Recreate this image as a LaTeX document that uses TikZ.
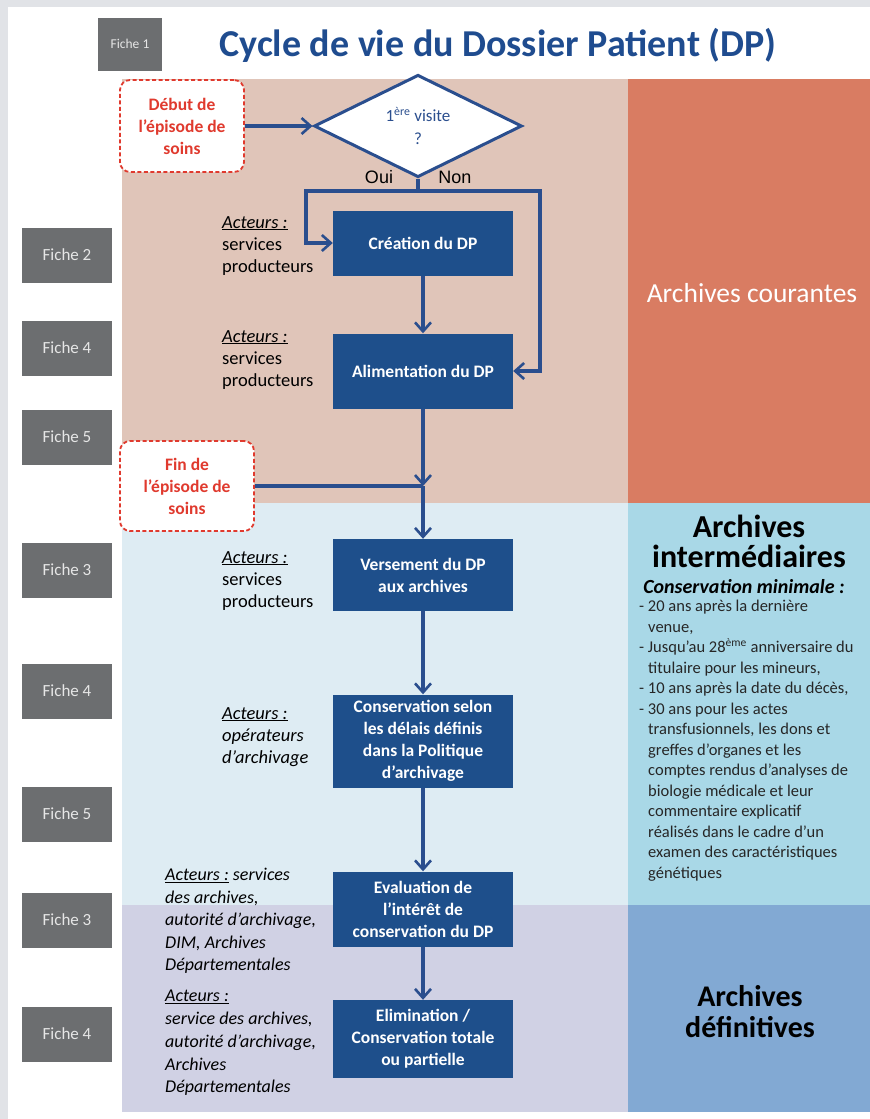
\documentclass[tikz,border=0pt]{standalone}
\usepackage{fontspec}
\setmainfont{Carlito}
\newfontfamily\arialfont{Liberation Sans}
\usetikzlibrary{shapes.geometric,arrows.meta,positioning}
\definecolor{DPBlue}{HTML}{1E4F8B}
\definecolor{DPLine}{HTML}{2A4E8E}
\definecolor{DPTitle}{HTML}{1F4C8F}
\definecolor{DPRed}{HTML}{E03A2E}
\definecolor{FicheGray}{HTML}{6C6E70}
\definecolor{FicheText}{HTML}{E6E6E6}
\definecolor{FrameGray}{HTML}{E1E3E7}
\definecolor{CourantLeft}{HTML}{E0C5B9}
\definecolor{CourantRight}{HTML}{D97C62}
\definecolor{InterLeft}{HTML}{DEECF3}
\definecolor{InterRight}{HTML}{A9D8E7}
\definecolor{DefLeft}{HTML}{D0D1E4}
\definecolor{DefRight}{HTML}{82A9D3}
\tikzstyle{fiche} = [fill=FicheGray,text=FicheText,minimum width=90pt,minimum height=55pt,inner sep=0pt,font=\fontsize{17}{20}\selectfont]
\tikzstyle{etape} = [fill=DPBlue,text=white,minimum width=180pt,inner sep=0pt,align=center,font=\bfseries\fontsize{17.5}{22}\selectfont]
\tikzstyle{episode} = [draw=DPRed,fill=white,text=DPRed,line width=1.8pt,dash pattern=on 4pt off 2.5pt,rounded corners=10pt,inner sep=0pt,align=center,font=\bfseries\fontsize{17.5}{22}\selectfont]
\tikzstyle{decision} = [shape=diamond,draw=DPLine,fill=white,line width=3pt,minimum width=208pt,minimum height=94pt,inner sep=0pt,text=DPLine,align=center,font=\fontsize{17}{23}\selectfont]
\tikzstyle{acteur} = [anchor=north west,inner sep=0pt,align=left,font=\fontsize{18.5}{22}\selectfont]
\tikzstyle{ligne} = [draw=DPLine,line width=3.2pt]
\tikzstyle{fleche} = [ligne,-{Straight Barb[length=9pt,width=16pt,line width=2.6pt]}]
\newcommand{\acteurs}{\underline{\textit{Acteurs :}}}

\begin{document}
\begin{tikzpicture}[x=1pt,y=-1pt]
\useasboundingbox (0,0) rectangle (870,1119);
% cadre et bandes de fond
\fill[FrameGray] (0,0) rectangle (870,1119);
\fill[white] (8,7) rectangle (870,1119);
\fill[CourantLeft] (122,79) rectangle (628,503);
\fill[CourantRight] (628,79) rectangle (870,503);
\fill[InterLeft] (122,503) rectangle (628,905);
\fill[InterRight] (628,503) rectangle (870,905);
\fill[DefLeft] (122,905) rectangle (628,1112);
\fill[DefRight] (628,905) rectangle (870,1112);

% titre
\node[fiche,minimum width=64pt,minimum height=53pt,font=\fontsize{13.5}{16}\selectfont] (fiche1) at (130,44) {Fiche 1};
\node[text=DPTitle,font=\bfseries\fontsize{38}{44}\selectfont] (titre) at (498,45) {Cycle de vie du Dossier Patient (DP)};

% fiches
\node[fiche] (fiche2) at (67,255) {Fiche 2};
\node[fiche] (fiche4a) at (67,348) {Fiche 4};
\node[fiche] (fiche5a) at (67,437) {Fiche 5};
\node[fiche] (fiche3a) at (67,570) {Fiche 3};
\node[fiche] (fiche4b) at (67,691) {Fiche 4};
\node[fiche] (fiche5b) at (67,814) {Fiche 5};
\node[fiche] (fiche3b) at (67,920) {Fiche 3};
\node[fiche] (fiche4c) at (67,1034) {Fiche 4};

% episodes de soins
\node[episode,minimum width=124pt,minimum height=92pt] (debut) at (182,126) {D\'ebut de\\l'\'episode de\\soins};
\node[episode,minimum width=134pt,minimum height=90pt] (fin) at (187,486) {Fin de\\l'\'episode de\\soins};

% decision
\node[decision] (visite) at (418,126) {1\textsuperscript{\`ere} visite\\?};
\node[font=\arialfont\fontsize{18}{20}\selectfont] (oui) at (379,177) {Oui};
\node[font=\arialfont\fontsize{18}{20}\selectfont] (non) at (455,177) {Non};
\coordinate (fourche) at (418,191);
\coordinate (gauche) at (306,191);
\coordinate (droite) at (540,191);

% etapes
\node[etape,minimum height=65pt] (creation) at (423,243) {Cr\'eation du DP};
\node[etape,minimum height=75pt] (alimentation) at (423,371) {Alimentation du DP};
\node[etape,minimum height=72pt] (versement) at (423,575) {Versement du DP\\aux archives};
\node[etape,minimum height=93pt] (conservation) at (423,741) {Conservation selon\\les d\'elais d\'efinis\\dans la Politique\\d'archivage};
\node[etape,minimum height=75pt] (evaluation) at (423,909) {Evaluation de\\l'int\'er\^et de\\conservation du DP};
\node[etape,minimum height=78pt] (elimination) at (423,1039) {Elimination /\\Conservation totale\\ou partielle};
\coordinate (jonction) at (423,486);

% connecteurs
\draw[fleche] (debut) -- (visite);
\draw[ligne] (visite.south) -- (fourche);
\draw[fleche] (fourche) -- (gauche) |- (creation.west);
\draw[fleche] (fourche) -- (droite) |- (alimentation.east);
\draw[fleche] (creation) -- (alimentation);
\draw[fleche] (alimentation) -- (jonction);
\draw[ligne] (fin) -- (jonction);
\draw[fleche] (jonction) -- (versement);
\draw[fleche] (versement) -- (conservation);
\draw[fleche] (conservation) -- (evaluation);
\draw[fleche] (evaluation) -- (elimination);

% acteurs
\node[acteur] (acteur1) at (222,216) {\acteurs\\services\\producteurs};
\node[acteur] (acteur2) at (222,330) {\acteurs\\services\\producteurs};
\node[acteur] (acteur3) at (222,551) {\acteurs\\services\\producteurs};
\node[acteur,font=\itshape\fontsize{18.5}{22}\selectfont] (acteur4) at (222,707) {\acteurs\\op\'erateurs\\d'archivage};
\node[acteur,font=\itshape\fontsize{18}{22.5}\selectfont] (acteur5) at (165,868) {\acteurs{} services\\des archives,\\autorit\'e d'archivage,\\DIM, Archives\\D\'epartementales};
\node[acteur,font=\itshape\fontsize{18}{22.8}\selectfont] (acteur6) at (165,990) {\acteurs\\service des archives,\\autorit\'e d'archivage,\\Archives\\D\'epartementales};

% types d'archives
\node[text=white,font=\fontsize{27.5}{30}\selectfont] (courantes) at (752,293) {Archives courantes};
\node[align=center,font=\bfseries\fontsize{32}{30}\selectfont] (intermediaires) at (749,541) {Archives\\interm\'ediaires};
\node[font=\bfseries\itshape\fontsize{20}{22}\selectfont] (minimale) at (744,587) {Conservation minimale :};
\node[anchor=north west,inner sep=0pt,align=left,text=black!85,font=\fontsize{16.5}{20.5}\selectfont] (durees) at (639,600) {- 20 ans apr\`es la derni\`ere\\
\hspace*{9pt}venue,\\
- Jusqu'au 28\textsuperscript{\`eme} anniversaire du\\
\hspace*{9pt}titulaire pour les mineurs,\\
- 10 ans apr\`es la date du d\'ec\`es,\\
- 30 ans pour les actes\\
\hspace*{9pt}transfusionnels, les dons et\\
\hspace*{9pt}greffes d'organes et les\\
\hspace*{9pt}comptes rendus d'analyses de\\
\hspace*{9pt}biologie m\'edicale et leur\\
\hspace*{9pt}commentaire explicatif\\
\hspace*{9pt}r\'ealis\'es dans le cadre d'un\\
\hspace*{9pt}examen des caract\'eristiques\\
\hspace*{9pt}g\'en\'etiques};
\node[align=center,font=\bfseries\fontsize{30}{31}\selectfont] (definitives) at (750,1012) {Archives\\d\'efinitives};
\end{tikzpicture}
\end{document}
